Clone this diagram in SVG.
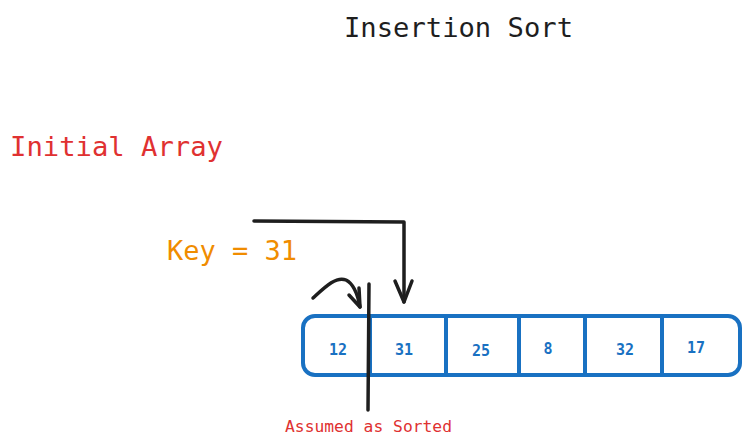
<svg xmlns="http://www.w3.org/2000/svg" width="749" height="446" viewBox="0 0 749 446">
<style>
.t{font-family:"DejaVu Sans Mono","Liberation Mono",monospace}
.num{font-family:"DejaVu Sans Mono","Liberation Mono",monospace;font-size:15px;fill:#1971c2;text-anchor:middle;font-weight:bold}
.ln{fill:none;stroke:#1e1e1e;stroke-width:3.5;stroke-linecap:round;stroke-linejoin:round}
.cell{fill:none;stroke:#1971c2;stroke-width:4}
</style>
<rect width="749" height="446" fill="#ffffff"/>
<g id="title"><text class="t" x="344" y="37" font-size="27" fill="#1e1e1e" textLength="229" lengthAdjust="spacingAndGlyphs">Insertion Sort</text></g>
<g id="initial-array-label"><text class="t" x="10" y="156" font-size="26" fill="#e03131" textLength="213" lengthAdjust="spacingAndGlyphs">Initial Array</text></g>
<g id="key-label"><text class="t" x="167" y="260" font-size="26" fill="#f08c00" textLength="130" lengthAdjust="spacingAndGlyphs">Key = 31</text></g>
<g id="array">
<rect class="cell" x="303" y="316" width="437" height="59" rx="12"/>
<line class="cell" x1="370" y1="316" x2="370" y2="375"/>
<line class="cell" x1="446" y1="316" x2="446" y2="375"/>
<line class="cell" x1="519" y1="316" x2="519" y2="375"/>
<line class="cell" x1="585" y1="316" x2="585" y2="375"/>
<line class="cell" x1="662" y1="316" x2="662" y2="375"/>
<text class="num" x="338" y="355">12</text>
<text class="num" x="404" y="355">31</text>
<text class="num" x="481" y="356">25</text>
<text class="num" x="548" y="354">8</text>
<text class="num" x="625" y="355">32</text>
<text class="num" x="696" y="353">17</text>
</g>
<g id="assumed-label"><text class="t" x="285" y="432" font-size="15" fill="#e03131" textLength="167" lengthAdjust="spacingAndGlyphs">Assumed as Sorted</text></g>
<g id="connectors">
<path class="ln" d="M254 221 L404 222 L404 302"/>
<path class="ln" d="M395 281 L404 302 L412 281"/>
<path class="ln" d="M313 298 C325 287 336 276 346 280 C354 284 358 296 360 307"/>
<path class="ln" d="M349 295 L360 307 L359 288"/>
<path class="ln" d="M369 284 L368 410"/>
</g>
</svg>
